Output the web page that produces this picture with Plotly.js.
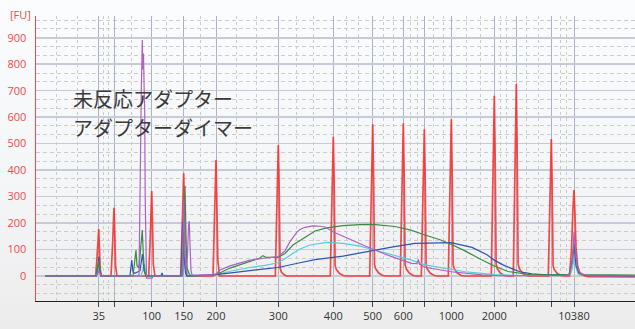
<!DOCTYPE html>
<html>
<head>
<meta charset="utf-8">
<script src="https://cdn.plot.ly/plotly-3.0.1.min.js"></script>
<style>
html,body{margin:0;padding:0;}
body{width:635px;height:329px;background:linear-gradient(to bottom,#fbfcfd 0%,#f4f5f7 60%,#ececec 100%);overflow:hidden;}
#chart{width:635px;height:329px;}
</style>
</head>
<body>
<div id="chart"></div>
<script>
// Ladder (size standard) migration times (s) and tick labels (bp)
const sizeTickTimes  = [39.87, 41.4, 45.17, 48.37, 51.6, 57.83, 63.33, 67.27, 70.33, 72.43, 75.13, 79.43, 81.63, 85.13, 87.4];
const sizeTickLabels = ["35", "", "100", "150", "200", "300", "400", "500", "600", "", "1000", "2000", "", "", "10380"];

// Ladder trace (red)
const ladderTime = [34.5,
 39.57,39.72,39.87,39.94,40.02,40.15,
 41.1,41.26,41.4,41.47,41.56,41.7,
 44.87,45.03,45.17,45.24,45.33,45.5,
 48.07,48.22,48.37,48.44,48.54,48.7,
 51.3,51.45,51.6,51.67,51.78,51.95,
 57.53,57.68,57.83,57.91,58.01,58.15,58.45,58.7,
 63.03,63.18,63.33,63.41,63.51,63.63,63.93,64.33,64.63,
 66.97,67.12,67.27,67.35,67.45,67.57,67.87,68.27,68.57,
 70.03,70.18,70.33,70.41,70.51,70.63,70.93,71.33,71.63,
 72.13,72.28,72.43,72.51,72.61,72.73,73.03,73.43,73.73,
 74.83,74.98,75.13,75.21,75.31,75.43,75.73,76.13,76.43,
 79.13,79.28,79.43,79.51,79.61,79.73,80.03,80.43,80.73,
 81.33,81.48,81.63,81.71,81.81,81.93,82.23,82.63,82.93,
 84.83,84.98,85.13,85.21,85.31,85.43,85.73,86.13,86.43,
 86.95,87.15,87.3,87.4,87.48,87.6,87.75,87.95,88.3,88.8,
 93.5];
const ladderFU = [0,
 0,80,177,110,25,0,
 0,120,258,170,35,0,
 0,150,321,220,45,0,
 0,190,388,270,55,0,
 0,220,438,310,60,0,
 0,250,495,350,30,14,4,0,
 0,263,526,370,40,25,10,2,0,
 0,286,573,400,42,27,11,2,0,
 0,288,577,400,42,27,11,2,0,
 0,277,554,390,40,26,10,2,0,
 0,296,592,410,42,27,11,2,0,
 0,340,681,470,45,28,11,2,0,
 0,362,725,500,45,28,11,2,0,
 0,258,517,360,38,24,9,2,0,
 0,100,260,325,250,110,40,15,3,-2,
 -3];

// Sample A (purple)
const sampleATime = [34.5,39.6,39.87,40.1,
 43.9,43.97,44.05,44.13,44.23,44.29,44.35,44.42,44.47,44.52,44.58,44.65,45.2,45.35,
 48.2,48.3,48.38,48.46,48.55,48.65,48.75,48.85,48.93,49.0,49.1,49.2,
 51.0,51.6,52.0,53.0,54.0,55.0,56.2,57.0,57.8,58.5,59.0,59.67,60.0,60.5,61.3,62.0,62.5,63.4,64.8,66.0,67.27,69.17,71.17,71.7,71.83,71.95,72.5,75.1,78.2,80.0,86.5,87.0,87.25,87.4,87.5,87.7,88.0,89.0,93.5];
const sampleAFU = [0,0,20,0,
 0,150,450,700,891,780,840,700,627,300,20,-8,-8,0,
 0,150,290,120,40,30,80,190,207,120,20,4,
 3,8,23,38,50,60,66,70,73,95,130,165,176,184,189,188,185,165,142,120,101,73,48,47,63,45,33,16,4,1,1,8,60,167,120,40,10,0,0];

// Sample B (green)
const sampleBTime = [34.5,39.6,39.87,40.1,43.3,43.5,43.6,43.7,43.9,44.1,44.23,44.33,44.45,44.6,
 48.25,48.4,48.5,48.6,48.7,48.9,49.1,
 51.0,51.6,53.0,54.5,56.0,56.3,56.6,57.8,58.5,59.3,61.0,61.5,62.67,64.3,66.0,67.27,69.5,71.0,72.5,74.0,75.1,76.5,78.1,79.43,80.8,83.0,86.9,87.2,87.4,87.6,87.8,88.2,93.5];
const sampleBFU = [0,0,55,0,0,60,98,40,30,120,174,80,20,0,
 0,150,341,150,30,10,0,
 2,5,30,50,68,77,70,70,85,117,160,170,182,190,194,195,187,174,155,137,120,95,62,38,17,5,4,50,123,80,20,5,3];

// Sample C (cyan)
const sampleCTime = [34.5,39.7,39.87,40.05,44.1,44.3,44.45,44.6,44.7,48.3,48.45,48.55,48.65,48.8,
 51.6,53.0,55.0,56.5,57.8,58.5,59.3,60.0,61.0,62.67,64.3,66.0,67.27,69.8,71.0,72.5,74.0,75.1,76.5,78.2,79.4,82.0,87.0,87.25,87.4,87.55,87.8,88.2,93.5];
const sampleCFU = [0,0,35,0,0,30,45,10,0,0,80,120,40,0,
 5,18,32,40,50,65,86,102,117,127,123,113,100,73,62,42,32,25,16,10,5,2,3,30,73,40,8,2,2];

// Sample D (blue)
const sampleDTime = [34.5,39.65,39.8,39.87,39.95,40.1,43.0,43.17,43.3,43.5,44.0,44.25,44.4,44.6,46.1,46.2,46.3,
 48.1,48.27,48.4,48.55,48.7,
 51.6,53.5,55.0,56.5,57.8,60.0,61.5,64.3,66.0,67.27,69.3,71.5,73.0,75.1,77.2,78.7,79.43,80.3,81.5,82.0,83.2,85.0,86.9,87.2,87.4,87.6,87.9,88.5,93.5];
const sampleDFU = [0,0,40,73,30,0,0,60,15,10,20,83,20,0,0,12,0,
 0,207,80,10,0,
 5,12,20,27,32,50,62,75,87,98,110,123,125,126,108,80,60,42,23,16,8,3,5,50,117,40,10,2,0];

const traces = [
  {x: ladderTime, y: ladderFU, color: 'rgba(248,40,40,0.85)', w: 1.7},
  {x: sampleCTime, y: sampleCFU, color: '#5ccbd9', w: 1.2},
  {x: sampleDTime, y: sampleDFU, color: '#2b55b5', w: 1.2},
  {x: sampleBTime, y: sampleBFU, color: '#3a8a44', w: 1.2},
  {x: sampleATime, y: sampleAFU, color: '#ad62c2', w: 1.2}
].map(t => ({
  type: 'scatter', mode: 'lines', x: t.x, y: t.y,
  line: {color: t.color, width: t.w}, hoverinfo: 'skip', showlegend: false
}));

const minorGridTimes = [35.67,37.77,40.33,40.83,43.1,46.67,50.0,53.67,55.67,59.67,61.33,64.67,65.83,68.33,69.33,71.0,71.73,73.33,74.33,76.67,78.0,80.0,80.67,82.67,83.83,86.0,86.67];

const layout = {
  width: 635, height: 329,
  margin: {l: 36, r: 0, t: 16, b: 28, pad: 0},
  paper_bgcolor: 'rgba(0,0,0,0)',
  plot_bgcolor: 'rgba(0,0,0,0)',
  font: {family: 'Open Sans, sans-serif', size: 11},
  xaxis: {
    range: [33.6, 93.5],
    tickmode: 'array', tickvals: sizeTickTimes, ticktext: sizeTickLabels,
    ticks: 'outside', ticklen: 5, tickcolor: '#444', tickwidth: 1,
    tickfont: {color: '#333', size: 11, family: 'Open Sans, sans-serif'},
    showgrid: true, gridcolor: '#a9b4c6', gridwidth: 1,
    showline: true, linecolor: '#222', linewidth: 1,
    zeroline: false,
    minor: {tickmode: 'array', tickvals: minorGridTimes, showgrid: true, griddash: '3px,3px', gridcolor: '#cbcbcb', gridwidth: 1, ticks: ''}
  },
  yaxis: {
    range: [-94.4, 982],
    tickmode: 'array', tickvals: [0,100,200,300,400,500,600,700,800,900],
    ticks: '', ticklabelstandoff: 6,
    tickfont: {color: '#f24a4a', size: 11, family: 'Open Sans, sans-serif'},
    showgrid: true, gridcolor: '#c5ccd7', gridwidth: 1.6,
    showline: true, linecolor: '#ff4444', linewidth: 1.5,
    zeroline: false,
    minor: {tick0: 0, dtick: 100/3, showgrid: true, griddash: '4px,3px', gridcolor: '#cccccc', gridwidth: 1, ticks: ''}
  },
  annotations: [
    {xref: 'paper', yref: 'paper', x: -0.047, y: 1.004, xanchor: 'left', yanchor: 'middle',
     text: '[FU]', showarrow: false, font: {color: '#f24a4a', size: 11, family: 'Open Sans, sans-serif'}},
    {xref: 'paper', yref: 'paper', x: 0.058, y: 0.711, xanchor: 'left', yanchor: 'middle',
     text: '未反応アダプター', showarrow: false,
     font: {color: '#3a3a3a', size: 20, family: 'Noto Sans CJK JP, sans-serif'}},
    {xref: 'paper', yref: 'paper', x: 0.058, y: 0.608, xanchor: 'left', yanchor: 'middle',
     text: 'アダプターダイマー', showarrow: false,
     font: {color: '#3a3a3a', size: 20, family: 'Noto Sans CJK JP, sans-serif'}}
  ]
};

Plotly.newPlot('chart', traces, layout, {displayModeBar: false, staticPlot: true});
</script>
</body>
</html>
